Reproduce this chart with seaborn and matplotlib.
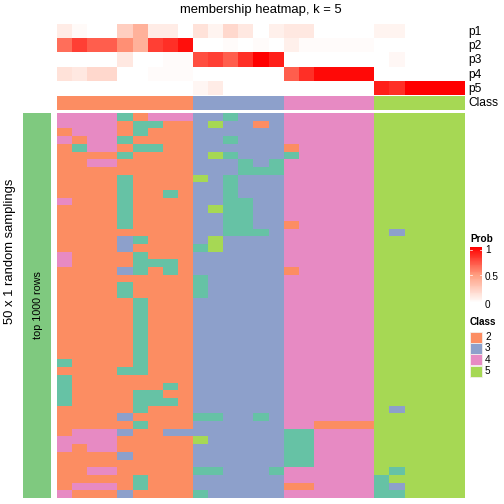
import matplotlib
matplotlib.use("Agg")
import matplotlib.pyplot as plt
from matplotlib.colors import LinearSegmentedColormap, ListedColormap
from matplotlib.patches import Rectangle
import numpy as np
import seaborn as sns

plt.rcParams['font.family'] = ['Liberation Sans', 'DejaVu Sans']

W = 504.0
title = "membership heatmap, k = 5"
row_names = ["p1", "p2", "p3", "p4", "p5"]
class_labels = ["2", "3", "4", "5"]

p1 = [.10, .03, 0, 0, .25, .40, .10, .10, 0, .15, .06, .20, .12, 0, .08, .12, .12, 0, 0, 0, 0, .06, .06, 0, 0, 0, 0]
p2 = [.65, .80, .70, .70, .55, .40, .80, .85, .95, 0, 0, .02, 0, .02, 0, .08, .02, .02, .02, .02, .02, 0, 0, 0, 0, 0, 0]
p3 = [0, 0, 0, 0, .12, 0, 0, .02, .02, .75, .80, .70, .85, 1, .90, 0, 0, 0, 0, 0, 0, 0, .04, 0, 0, 0, 0]
p4 = [.15, .12, .20, .20, 0, 0, .02, .02, .02, 0, 0, 0, 0, 0, 0, .70, .85, .97, .97, .97, .97, 0, 0, 0, 0, 0, 0]
p5 = [0, 0, 0, 0, 0, 0, 0, 0, 0, .05, .10, 0, 0, 0, 0, 0, 0, 0, 0, 0, 0, .90, .85, 1, 1, 1, 1]
top_class = [2] * 9 + [3] * 6 + [4] * 6 + [5] * 6

membership = [
    "444412444 331333 444444 555555",
    "444421122 353323 444444 555555",
    "244421222 333333 444444 555555",
    "424412222 331333 444444 555555",
    "214421122 333333 244444 555555",
    "222212222 351333 144444 555555",
    "224422222 333131 444444 555555",
    "222222222 333111 444444 555555",
    "222212222 531333 444444 555555",
    "222212222 331333 444444 555555",
    "222212212 331333 444444 555555",
    "422212222 331133 444444 555555",
    "222212222 351133 444444 555555",
    "222212222 331133 444444 555555",
    "222212222 331133 244444 555555",
    "222222222 331113 444444 535555",
    "222231222 353333 444444 555555",
    "222232222 153333 444444 555555",
    "422221222 333333 444444 555555",
    "422221112 333333 444444 555555",
    "222231212 333333 244444 555555",
    "222222222 133333 444444 555555",
    "222212222 133333 444444 555555",
    "222212222 133333 444444 555555",
    "222221222 333333 444444 555555",
    "222221222 333333 444444 555555",
    "222221222 333333 444444 555555",
    "222221222 333333 444444 555555",
    "222221222 333333 444444 555555",
    "222221222 333333 444444 555555",
    "222221222 333333 444444 555555",
    "222221222 333333 444444 555555",
    "122221222 333333 444444 555555",
    "222211222 333333 444444 555555",
    "122222222 333333 444444 555555",
    "122222212 333333 444444 555555",
    "122221122 333333 444444 555555",
    "122221112 333333 444444 555555",
    "222221222 333333 444444 535555",
    "222232222 113313 444444 555555",
    "222221222 333333 442222 555555",
    "244432233 333333 114444 555555",
    "444422222 533333 114444 555555",
    "424422222 333333 114444 555555",
    "222232222 333333 114444 555555",
    "222222222 333333 114444 555555",
    "224422222 113331 444444 515555",
    "222221222 333333 444444 155555",
    "244421222 333333 224444 135555",
    "422232222 133333 444444 115555",
]

set2 = sns.color_palette("Set2", 5).as_hex()
class_cmap = ListedColormap(set2)
prob_cmap = LinearSegmentedColormap.from_list("prob", ["#FFFFFF", "#FF9E81", "#FF0000"])


def ax_px(x0, y0, x1, y1):
    return fig.add_axes([x0 / W, 1 - y1 / W, (x1 - x0) / W, (y1 - y0) / W])


def heat(ax, data, cmap, vmin, vmax):
    sns.heatmap(data, ax=ax, cmap=cmap, vmin=vmin, vmax=vmax, cbar=False,
                xticklabels=False, yticklabels=False, linewidths=0, rasterized=True)
    ax.set_xlabel("")
    ax.set_ylabel("")
    ax.tick_params(length=0)


fig = plt.figure(figsize=(7, 7), dpi=72, facecolor="white")
X0, X1 = 57, 465

# probability annotation rows
heat(ax_px(X0, 24, X1, 95), np.array([p1, p2, p3, p4, p5]), prob_cmap, 0, 1)

# class annotation row
heat(ax_px(X0, 96, X1, 110), np.array([top_class]), class_cmap, 0.5, 5.5)

# main membership matrix
matrix = np.array([[int(ch) for ch in row.replace(" ", "")] for row in membership])
heat(ax_px(X0, 113, X1, 498), matrix, class_cmap, 0.5, 5.5)

# left strip
strip_ax = ax_px(23, 113, 51, 498)
heat(strip_ax, np.array([[0]]), ListedColormap(["#7FC97F"]), 0, 1)

# texts
fig.text(260.5 / W, 1 - 10 / W, title, ha="center", va="center", fontsize=13, color="black")
for i, name in enumerate(row_names):
    fig.text(468 / W, 1 - (32 + 14.2 * i) / W, name, ha="left", va="center", fontsize=12)
fig.text(468 / W, 1 - 103.5 / W, "Class", ha="left", va="center", fontsize=12)
fig.text(10 / W, 1 - 251.5 / W, "50 x 1 random samplings", rotation=90, ha="center", va="center", fontsize=13)
fig.text(38 / W, 1 - 305.5 / W, "top 1000 rows", rotation=90, ha="center", va="center", fontsize=10.7)

# probability legend
fig.text(470 / W, 1 - 239 / W, "Prob", ha="left", va="center", fontsize=10, fontweight="bold")
cb_ax = ax_px(470, 247, 482, 303)
heat(cb_ax, np.linspace(1, 0, 64).reshape(-1, 1), prob_cmap, 0, 1)
for frac in (0.045, 0.5):
    y = frac * 64
    cb_ax.plot([0, 0.2], [y, y], color="white", lw=0.7)
    cb_ax.plot([0.8, 1], [y, y], color="white", lw=0.7)
for txt, ypx in (("1", 250), ("0.5", 277), ("0", 305)):
    fig.text(485 / W, 1 - ypx / W, txt, ha="left", va="center", fontsize=10)

# class legend
fig.text(470 / W, 1 - 322 / W, "Class", ha="left", va="center", fontsize=10, fontweight="bold")
for i, lab in enumerate(class_labels):
    ytop = 331.5 + 11.4 * i
    fig.add_artist(Rectangle((470 / W, 1 - (ytop + 11) / W), 11.5 / W, 11 / W,
                             transform=fig.transFigure, facecolor=set2[i + 1],
                             edgecolor="#F4F0EE", lw=0.8))
    fig.text(485 / W, 1 - (ytop + 5.5) / W, lab, ha="left", va="center", fontsize=10)

fig.savefig("out.png", dpi=72, facecolor="white")
